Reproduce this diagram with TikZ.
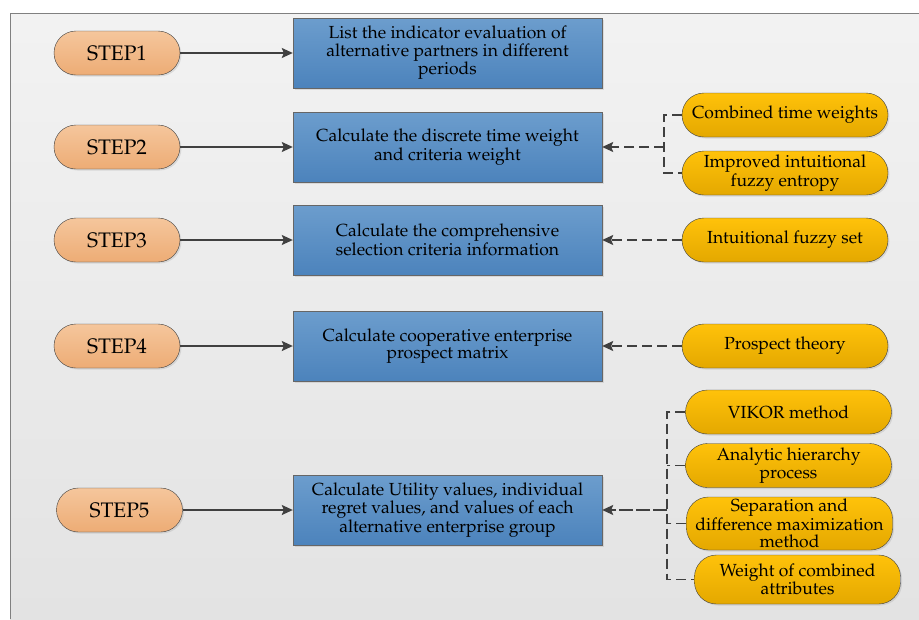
\documentclass[tikz,border=0pt]{standalone}
\usepackage[T1]{fontenc}
\usepackage{mathpazo}
\usepackage{tikz}
\usetikzlibrary{arrows}
\usetikzlibrary{positioning}
\usetikzlibrary{arrows.meta,shadows}
\definecolor{linegray}{RGB}{64,64,64}
\definecolor{steptop}{RGB}{245,198,156}
\definecolor{stepbot}{RGB}{237,172,117}
\definecolor{boxtop}{RGB}{108,157,205}
\definecolor{boxbot}{RGB}{76,131,188}
\definecolor{methtop}{RGB}{255,194,10}
\definecolor{methbot}{RGB}{228,168,0}
\colorlet{paneltop}{black!5}
\colorlet{panelbot}{black!11}

\begin{document}
\begin{tikzpicture}[
		x=1pt,y=-1pt,
		every node/.style={
			font=\fontsize{17.5}{17.5}\selectfont,
			text=black
		},
		stepnode/.style={
			draw=linegray,thin,rounded corners=22pt,
			top color=steptop,bottom color=stepbot,
			minimum width=126pt,minimum height=44pt,
			font=\fontsize{21}{21}\selectfont,
			drop shadow={shadow xshift=1.5pt,shadow yshift=-1.5pt,opacity=0.2}
		},
		taskbox/.style={
			draw=linegray!80,thin,align=center,
			top color=boxtop,bottom color=boxbot,
			minimum width=309pt,minimum height=70pt,
			drop shadow={shadow xshift=1.5pt,shadow yshift=-1.5pt,opacity=0.2}
		},
		methnode/.style={
			draw=linegray,thin,rounded corners=22pt,align=center,
			top color=methtop,bottom color=methbot,
			minimum width=206pt,minimum height=44pt,inner sep=1pt,
			drop shadow={shadow xshift=1.5pt,shadow yshift=-1.5pt,opacity=0.2}
		},
		flow/.style={-{Stealth[length=11pt,width=10pt,inset=2pt]},linegray,line width=1.4pt},
		dashline/.style={linegray,line width=1.4pt,dash pattern=on 10pt off 5pt},
		dasharrow/.style={dashline,-{Stealth[length=11pt,width=10pt,inset=2pt]}}
	]
	
	\useasboundingbox (0,0) rectangle (919,619);
	\fill[top color=paneltop,bottom color=panelbot] (10,13) rectangle (919,619);
	\draw[gray,thin] (10,619) -- (10,13) -- (919,13);
	
	\def\bx{447.5}
	
	
	\foreach \i/\sx/\y/\txt in {
			1/117/53/{List the indicator evaluation of\\alternative partners in different\\periods},
			2/117/147/{Calculate the discrete time weight\\and criteria weight},
			3/117/240/{Calculate the comprehensive\\selection criteria information},
			4/117/346/{Calculate cooperative enterprise\\prospect matrix},
			5/119.5/510/{Calculate Utility values, individual\\regret values, and values of each\\alternative enterprise group}}{
		\node[stepnode] (s\i) at (\sx,\y) {STEP\i};
		\node[taskbox] (b\i) at (\bx,\y) {\txt};
		\draw[flow] (s\i) -- (b\i);
	}
	
	\node[methnode] (m1) at (785,115) {Combined time weights};
	\node[methnode] (m2) at (785,173) {Improved intuitional\\fuzzy entropy};
	\node[methnode] (m3) at (785,240) {Intuitional fuzzy set};
	\node[methnode] (m4) at (785,346) {Prospect theory};
	\node[methnode] (m5) at (788.5,412) {VIKOR method};
	\node[methnode] (m6) at (788.5,465.5) {Analytic hierarchy\\process};
	\node[methnode,minimum height=53pt] (m7) at (789.5,523.5) {Separation and\\difference maximization\\method};
	\node[methnode,minimum height=49pt] (m8) at (797.5,579.5) {Weight of combined\\attributes};
	
	\coordinate (j2) at (664,147);
	\coordinate (j5) at (667,510);
	
	\draw[dashline] (m1.west) -| (j2) |- (m2.west);
	\draw[dasharrow] (j2) -- (b2.east);
	\draw[dasharrow] (m3) -- (b3);
	\draw[dasharrow] (m4) -- (b4);
	
	\draw[dashline] (m5.west) -| (j5) |- (m8.west);
	\foreach \m in {6,7}{
		\draw[dashline] (m\m.west) -- (m\m.west -| j5);
	}
	\draw[dasharrow,dash pattern=on 14pt off 3pt] (j5) -- (b5.east);

\end{tikzpicture}
\end{document}
